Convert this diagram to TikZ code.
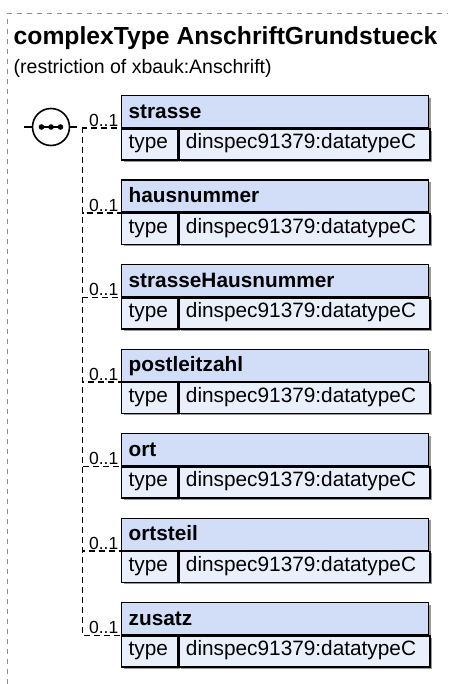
\documentclass[tikz,border=0pt]{standalone}
\usepackage{fontspec}
\setmainfont{Liberation Sans}
\usetikzlibrary{shadows}
\definecolor{hdrfill}{RGB}{210,222,247}
\definecolor{rowfill}{RGB}{234,240,251}
\definecolor{framegray}{RGB}{140,140,140}
\begin{document}
\begin{tikzpicture}[x=1pt,y=-1pt,
  cell/.style={rectangle, draw=black, line width=1.3pt, inner xsep=7pt, inner ysep=0pt, align=left, anchor=north west,
    font=\fontsize{20.8}{24}\selectfont,
    drop shadow={shadow xshift=2pt, shadow yshift=-2pt, fill=black!40, opacity=1}},
  hdr/.style={cell, fill=hdrfill, text width=293pt, text height=22.5pt, text depth=9.5pt, font=\bfseries\fontsize{20.8}{24}\selectfont},
  typ/.style={cell, fill=rowfill, text width=42pt, text height=20pt, text depth=11pt},
  val/.style={cell, fill=rowfill, text width=237pt, text height=20pt, text depth=11pt},
  conn/.style={draw=black, line width=1.6pt, dash pattern=on 6pt off 4pt},
  card/.style={anchor=base east, inner sep=0pt, font=\fontsize{17.5}{20}\selectfont},
  seqline/.style={draw=black, line width=1.6pt},
]
\useasboundingbox (0,0) rectangle (448,684);
\draw[framegray, line width=1pt, dash pattern=on 5pt off 5pt] (7.5,684) -- (7.5,13.5) -- (448,13.5);
\node[anchor=base west, inner sep=0pt, font=\bfseries\fontsize{24.7}{28}\selectfont] (title) at (13.5,45) {complexType AnschriftGrundstueck};
\node[anchor=base west, inner sep=0pt, font=\fontsize{19.5}{23}\selectfont] (sub) at (13.5,74) {(restriction of xbauk:Anschrift)};
\node[circle, draw=black, line width=1.6pt, minimum size=37pt, inner sep=0pt] (seq) at (51,127) {};
\draw[line width=2pt] ([xshift=-9.5pt]seq.center) -- ([xshift=9.5pt]seq.center);
\fill ([xshift=-9.5pt]seq.center) circle (2.8pt);
\fill (seq.center) circle (2.8pt);
\fill ([xshift=9.5pt]seq.center) circle (2.8pt);
\coordinate (in) at (24,127);
\coordinate (out) at (77,127);
\coordinate (j) at (82.5,127);
\draw[seqline] (in) -- (seq);
\draw[seqline] (seq) -- (out);
\foreach \nm [count=\k from 0] in {strasse,hausnummer,strasseHausnummer,postleitzahl,ort,ortsteil,zusatz} {
  \pgfmathsetmacro{\yt}{95+84.5*\k}
  \node[hdr] (h\k) at (121,\yt) {\nm};
  \node[typ] (t\k) at (h\k.south west) {type};
  \node[val] (v\k) at (t\k.north east) {dinspec91379:datatypeC};
  \draw[conn] (j) |- (h\k.south west);
  \node[card] (c\k) at ([xshift=-2.5pt,yshift=1.5pt]h\k.south west) {0..1};
}
\end{tikzpicture}
\end{document}
